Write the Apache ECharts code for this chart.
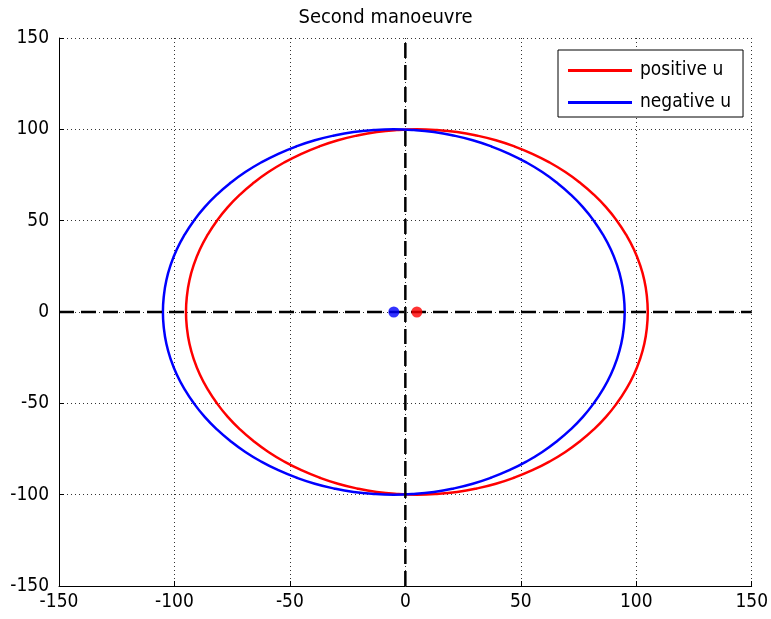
<!DOCTYPE html>
<html><head><meta charset="utf-8">
<script src="https://cdn.jsdelivr.net/npm/echarts@6/dist/echarts.min.js"></script>
<style>html,body{margin:0;padding:0;background:#fff}#c{width:771px;height:619px}</style>
</head><body><div id="c"></div>
<script>
const titleText = 'Second manoeuvre';
const seriesNames = ['positive u', 'negative u'];
const axisMin = -150, axisMax = 150, axisStep = 50;
// positive u orbit
const posX = [105,104.6,103.5,101.6,99.0,95.6,91.6,86.9,81.6,75.7,69.3,62.4,55,47.3,39.2,30.9,22.4,13.7,5,
  -3.7,-12.4,-20.9,-29.2,-37.3,-45,-52.4,-59.3,-65.7,-71.6,-76.9,-81.6,-85.6,-89.0,-91.6,-93.5,-94.6,-95,
  -94.6,-93.5,-91.6,-89.0,-85.6,-81.6,-76.9,-71.6,-65.7,-59.3,-52.4,-45,-37.3,-29.2,-20.9,-12.4,-3.7,5,
  13.7,22.4,30.9,39.2,47.3,55,62.4,69.3,75.7,81.6,86.9,91.6,95.6,99.0,101.6,103.5,104.6,105];
const posY = [0,8.7,17.4,25.9,34.2,42.3,50,57.4,64.3,70.7,76.6,81.9,86.6,90.6,94.0,96.6,98.5,99.6,100,
  99.6,98.5,96.6,94.0,90.6,86.6,81.9,76.6,70.7,64.3,57.4,50,42.3,34.2,25.9,17.4,8.7,0,
  -8.7,-17.4,-25.9,-34.2,-42.3,-50,-57.4,-64.3,-70.7,-76.6,-81.9,-86.6,-90.6,-94.0,-96.6,-98.5,-99.6,-100,
  -99.6,-98.5,-96.6,-94.0,-90.6,-86.6,-81.9,-76.6,-70.7,-64.3,-57.4,-50,-42.3,-34.2,-25.9,-17.4,-8.7,0];
// negative u orbit
const negX = [95,94.6,93.5,91.6,89.0,85.6,81.6,76.9,71.6,65.7,59.3,52.4,45,37.3,29.2,20.9,12.4,3.7,-5,
  -13.7,-22.4,-30.9,-39.2,-47.3,-55,-62.4,-69.3,-75.7,-81.6,-86.9,-91.6,-95.6,-99.0,-101.6,-103.5,-104.6,-105,
  -104.6,-103.5,-101.6,-99.0,-95.6,-91.6,-86.9,-81.6,-75.7,-69.3,-62.4,-55,-47.3,-39.2,-30.9,-22.4,-13.7,-5,
  3.7,12.4,20.9,29.2,37.3,45,52.4,59.3,65.7,71.6,76.9,81.6,85.6,89.0,91.6,93.5,94.6,95];
const negY = posY;
// focus points
const posDot = [5, 0];
const negDot = [-5, 0];

const pair = (xs, ys) => xs.map((x, i) => [x, ys[i]]);
const FONT = '"Liberation Sans Narrow", "Arial Narrow", "DejaVu Sans Condensed", sans-serif';

const axisCommon = {
  type: 'value', min: axisMin, max: axisMax, interval: axisStep,
  axisLine: { show: true, onZero: false, lineStyle: { color: '#000', width: 1 } },
  axisTick: { show: true, inside: true, length: 5, lineStyle: { color: '#000' } },
  axisLabel: { color: '#000', fontSize: 19, fontFamily: FONT },
  splitLine: { show: true, lineStyle: { color: '#333', type: [1, 3], width: 1 } }
};

const chart = echarts.init(document.getElementById('c'), null, { renderer: 'canvas' });
chart.setOption({
  animation: false,
  backgroundColor: '#fff',
  title: { text: titleText, left: 'center', top: 3,
    textStyle: { fontSize: 20, fontWeight: 'normal', color: '#000', fontFamily: FONT } },
  grid: { left: 59, right: 16, top: 38, bottom: 33 },
  xAxis: Object.assign({}, axisCommon, { axisLabel: Object.assign({}, axisCommon.axisLabel, { margin: 7 }) }),
  yAxis: Object.assign({}, axisCommon, { axisLabel: Object.assign({}, axisCommon.axisLabel, { margin: 10 }) }),
  legend: {
    data: seriesNames, orient: 'vertical', left: 558, top: 50,
    padding: [11, 12, 5, 10], itemGap: 13, itemWidth: 64, itemHeight: 3, icon: 'rect',
    borderColor: '#000', borderWidth: 1, backgroundColor: '#fff', borderRadius: 0,
    textStyle: { fontSize: 19, color: '#000', fontFamily: FONT, padding: [0, 0, 0, 3] }
  },
  series: [
    { name: seriesNames[0], type: 'line', data: pair(posX, posY), smooth: true, showSymbol: false,
      lineStyle: { color: '#ff0000', width: 2.5 }, itemStyle: { color: '#ff0000' }, z: 2 },
    { name: seriesNames[1], type: 'line', data: pair(negX, negY), smooth: true, showSymbol: false,
      lineStyle: { color: '#0000ff', width: 2.5 }, itemStyle: { color: '#0000ff' }, z: 2 },
    { name: 'hline', type: 'line', data: [[axisMin, 0], [axisMax, 0]], showSymbol: false,
      lineStyle: { color: '#000', width: 2.5, type: [15, 7] }, z: 3 },
    { name: 'vline', type: 'line', data: [[0, axisMin], [0, axisMax]], showSymbol: false,
      lineStyle: { color: '#000', width: 2.5, type: [15, 7] }, z: 3 },
    { name: 'posDot', type: 'scatter', data: [posDot], symbol: 'circle', symbolSize: 11,
      itemStyle: { color: '#ff0000' }, z: 4 },
    { name: 'negDot', type: 'scatter', data: [negDot], symbol: 'circle', symbolSize: 11,
      itemStyle: { color: '#0000ff' }, z: 4 }
  ]
});
</script></body></html>
